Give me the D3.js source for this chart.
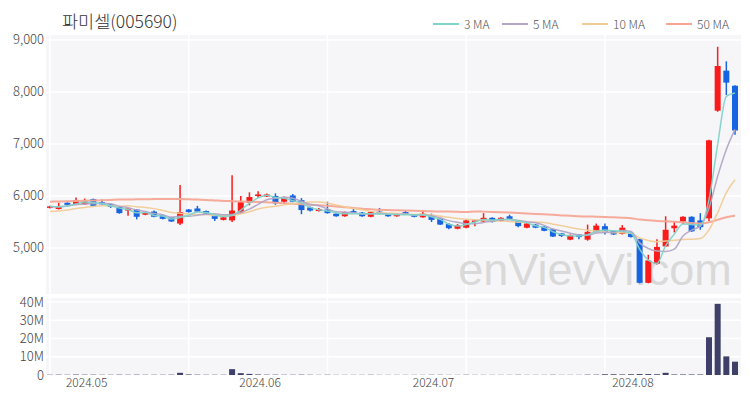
<!DOCTYPE html>
<html>
<head>
<meta charset="utf-8">
<script src="https://cdn.jsdelivr.net/npm/d3@7"></script>
<style>
body { margin: 0; background: #fff; }
svg text { font-family: "Noto Sans CJK KR", "Noto Sans", sans-serif; }
</style>
</head>
<body>
<div id="chart"></div>
<script>
"use strict";

// trading days shown
var dates = [
    "2024-04-25", "2024-04-26", "2024-04-29", "2024-04-30",
    "2024-05-02", "2024-05-03", "2024-05-07", "2024-05-08", "2024-05-09", "2024-05-10",
    "2024-05-13", "2024-05-14", "2024-05-16", "2024-05-17", "2024-05-20", "2024-05-21",
    "2024-05-22", "2024-05-23", "2024-05-24", "2024-05-27", "2024-05-28", "2024-05-29",
    "2024-05-30", "2024-05-31",
    "2024-06-03", "2024-06-04", "2024-06-05", "2024-06-06", "2024-06-07", "2024-06-10",
    "2024-06-11", "2024-06-12", "2024-06-13", "2024-06-14", "2024-06-17", "2024-06-18",
    "2024-06-19", "2024-06-20", "2024-06-21", "2024-06-24", "2024-06-25", "2024-06-26",
    "2024-06-27", "2024-06-28",
    "2024-07-01", "2024-07-02", "2024-07-03", "2024-07-04", "2024-07-05", "2024-07-08",
    "2024-07-09", "2024-07-10", "2024-07-11", "2024-07-12", "2024-07-15", "2024-07-16",
    "2024-07-17", "2024-07-18", "2024-07-19", "2024-07-22", "2024-07-23", "2024-07-24",
    "2024-07-25", "2024-07-26", "2024-07-29", "2024-07-30", "2024-07-31",
    "2024-08-01", "2024-08-02", "2024-08-05", "2024-08-06", "2024-08-07", "2024-08-08",
    "2024-08-09", "2024-08-12", "2024-08-13", "2024-08-14", "2024-08-16", "2024-08-19",
    "2024-08-20"
];

var open = [5780, 5750, 5870, 5830, 5840, 5940, 5880, 5840, 5790, 5720,
    5740, 5640, 5700, 5630, 5590, 5470, 5740, 5760, 5710, 5630,
    5540, 5530, 5680, 5870, 6000, 5990, 6000, 5890, 6010, 5920,
    5780, 5710, 5740, 5660, 5610, 5710, 5680, 5600, 5700, 5660,
    5610, 5690, 5640, 5590, 5620, 5560, 5460, 5370, 5390, 5510,
    5510, 5580, 5520, 5610, 5530, 5390, 5450, 5410, 5360, 5280,
    5160, 5260, 5160, 5310, 5420, 5330, 5270, 5290, 5170, 4330,
    4700, 5030, 5380, 5510, 5600, 5530, 5570, 7640, 8410, 8120];
var high = [5810, 5870, 5880, 5970, 5950, 5950, 5930, 5850, 5800, 5770,
    5750, 5690, 5720, 5640, 5600, 6210, 5750, 5810, 5720, 5640,
    5600, 6400, 6000, 6070, 6090, 6050, 6050, 5990, 6040, 5960,
    5800, 5770, 5890, 5670, 5700, 5760, 5690, 5700, 5770, 5670,
    5670, 5730, 5650, 5710, 5660, 5570, 5480, 5460, 5540, 5540,
    5670, 5590, 5590, 5640, 5540, 5480, 5460, 5420, 5370, 5290,
    5260, 5270, 5450, 5470, 5470, 5340, 5440, 5300, 5180, 4870,
    5170, 5610, 5500, 5610, 5610, 5670, 7080, 8870, 8590, 8130];
var low = [5760, 5740, 5820, 5820, 5830, 5800, 5830, 5770, 5660, 5620,
    5550, 5630, 5590, 5550, 5500, 5440, 5680, 5690, 5650, 5520,
    5530, 5500, 5660, 5820, 5960, 5980, 5830, 5850, 5880, 5650,
    5700, 5700, 5660, 5600, 5600, 5670, 5600, 5590, 5650, 5600,
    5600, 5640, 5590, 5580, 5500, 5440, 5360, 5360, 5380, 5420,
    5500, 5490, 5510, 5550, 5400, 5380, 5380, 5320, 5210, 5210,
    5150, 5170, 5140, 5300, 5260, 5250, 5260, 5200, 4320, 4320,
    4680, 5020, 5300, 5460, 5310, 5350, 5520, 7620, 7940, 7180];
var close = [5800, 5790, 5830, 5920, 5900, 5810, 5840, 5790, 5670, 5760,
    5600, 5680, 5600, 5560, 5510, 5690, 5690, 5700, 5660, 5560,
    5590, 5720, 5880, 5980, 6030, 6030, 5860, 5980, 5890, 5730,
    5720, 5750, 5670, 5610, 5690, 5680, 5610, 5690, 5660, 5610,
    5660, 5650, 5600, 5660, 5540, 5450, 5380, 5440, 5530, 5530,
    5580, 5500, 5580, 5560, 5420, 5470, 5390, 5330, 5220, 5230,
    5250, 5210, 5310, 5430, 5300, 5260, 5390, 5210, 4330, 4760,
    5020, 5350, 5430, 5600, 5320, 5400, 7070, 8500, 8180, 7260];
// volume in millions of shares
var volume = [0.15, 0.2, 0.15, 0.25, 0.2, 0.2, 0.15, 0.15, 0.2, 0.15,
    0.2, 0.15, 0.15, 0.15, 0.2, 1.2, 0.3, 0.2, 0.15, 0.15,
    0.15, 3.2, 1.0, 0.6, 0.3, 0.2, 0.2, 0.15, 0.15, 0.2,
    0.15, 0.1, 0.15, 0.1, 0.1, 0.1, 0.1, 0.15, 0.1, 0.1,
    0.1, 0.1, 0.1, 0.1, 0.15, 0.15, 0.1, 0.1, 0.15, 0.1,
    0.1, 0.1, 0.1, 0.1, 0.15, 0.1, 0.1, 0.1, 0.15, 0.1,
    0.1, 0.1, 0.2, 0.2, 0.4, 0.4, 0.3, 0.4, 0.5, 0.5,
    0.4, 1.2, 0.3, 0.3, 0.3, 0.3, 20.7, 39.0, 10.2, 7.3];

// moving average values before a full window exists
var ma10Head = [5700, 5710, 5730, 5760, 5780, 5800, 5810, 5810, 5800];
var ma50Head = [5890, 5895, 5900, 5905, 5910, 5915, 5920, 5925, 5930, 5930,
    5935, 5935, 5940, 5940, 5940, 5940, 5935, 5930, 5925, 5915,
    5905, 5900, 5895, 5890, 5885, 5880, 5870, 5860, 5850, 5840,
    5830, 5820, 5810, 5800, 5785, 5770, 5755, 5745, 5735, 5730,
    5725, 5720, 5715, 5710, 5705, 5700, 5700, 5695, 5690];

var monthLabels = ["2024.05", "2024.06", "2024.07", "2024.08"];
var priceTicks = [5000, 6000, 7000, 8000, 9000];
var volumeTicks = [0, 10, 20, 30, 40];

var maSeries = [
    { name: "3 MA", n: 3, head: null, color: "#82d3c9", width: 1.5 },
    { name: "5 MA", n: 5, head: null, color: "#b2a5c6", width: 1.5 },
    { name: "10 MA", n: 10, head: ma10Head, color: "#f1cb96", width: 1.5 },
    { name: "50 MA", n: 50, head: ma50Head, color: "#f6a594", width: 2 }
];

var UP = "#fb1b1b", DOWN = "#1764e3";

function movingAvg(n, head) {
    return close.map((c, i) => {
        if (i < n - 1) return head ? head[i] : d3.mean(close.slice(0, i + 1));
        return d3.mean(close.slice(i - n + 1, i + 1));
    });
}

var W = 750, H = 400;
var plotLeft = 46, plotRight = 741;

var svg = d3.select("#chart")
    .append("svg")
    .attr("width", W)
    .attr("height", H);

// scales
var x = d3.scalePoint()
    .domain(dates)
    .range([50, 735]);

var y = d3.scaleLinear()
    .domain([4115, 9096])
    .range([294, 35]);

var yv = d3.scaleLinear()
    .domain([0, 42.2])
    .range([375, 298]);

// panel backgrounds
svg.append("rect")
    .attr("x", plotLeft).attr("y", 35)
    .attr("width", plotRight - plotLeft).attr("height", 259)
    .attr("fill", "#f6f6f8");
svg.append("rect")
    .attr("x", plotLeft).attr("y", 298)
    .attr("width", plotRight - plotLeft).attr("height", 78)
    .attr("fill", "#f6f6f8");

// grid
var gridX = dates.filter((d, i) => i % 16 === 0);
svg.append("g")
    .selectAll("line")
    .data(gridX)
    .join("line")
    .attr("x1", d => x(d)).attr("x2", d => x(d))
    .attr("y1", 35).attr("y2", 376)
    .attr("stroke", "#fff").attr("stroke-width", 1.5);
svg.append("g")
    .selectAll("line")
    .data(priceTicks)
    .join("line")
    .attr("x1", plotLeft).attr("x2", plotRight)
    .attr("y1", d => y(d)).attr("y2", d => y(d))
    .attr("stroke", "#fff").attr("stroke-width", 1.5);
svg.append("g")
    .selectAll("line")
    .data(volumeTicks)
    .join("line")
    .attr("x1", plotLeft).attr("x2", plotRight)
    .attr("y1", d => yv(d)).attr("y2", d => yv(d))
    .attr("stroke", "#fff").attr("stroke-width", 1.5);

// watermark
svg.append("text")
    .attr("x", 595).attr("y", 285)
    .attr("text-anchor", "middle")
    .attr("font-size", 45)
    .attr("fill", "#d9d9d9")
    .style("font-family", "'Liberation Sans', Arial, sans-serif")
    .text("enVievVi.com");

// candles
var idx = d3.range(dates.length);
var candles = svg.append("g");
candles.selectAll("line")
    .data(idx)
    .join("line")
    .attr("x1", i => x(dates[i])).attr("x2", i => x(dates[i]))
    .attr("y1", i => y(high[i])).attr("y2", i => y(low[i]))
    .attr("stroke", i => close[i] >= open[i] ? UP : DOWN)
    .attr("stroke-width", 1.5);
candles.selectAll("rect")
    .data(idx)
    .join("rect")
    .attr("x", i => x(dates[i]) - 3)
    .attr("width", 6)
    .attr("y", i => y(Math.max(open[i], close[i])))
    .attr("height", i => Math.max(1.5, Math.abs(y(open[i]) - y(close[i]))))
    .attr("fill", i => close[i] >= open[i] ? UP : DOWN);

// moving averages
var line = d3.line()
    .x((d, i) => x(dates[i]))
    .y(d => y(d))
    .curve(d3.curveMonotoneX);

svg.append("g")
    .selectAll("path")
    .data(maSeries.slice().reverse())
    .join("path")
    .attr("d", s => line(movingAvg(s.n, s.head)))
    .attr("fill", "none")
    .attr("stroke", s => s.color)
    .attr("stroke-width", s => s.width)
    .attr("opacity", 0.95);

// volume bars
svg.append("g")
    .selectAll("rect")
    .data(idx)
    .join("rect")
    .attr("x", i => x(dates[i]) - 3)
    .attr("width", 6)
    .attr("y", i => yv(volume[i]))
    .attr("height", i => yv(0) - yv(volume[i]))
    .attr("fill", "#3e4069");

// axes labels
svg.append("g")
    .selectAll("text")
    .data(priceTicks)
    .join("text")
    .attr("x", 44).attr("y", d => y(d) + 4.5)
    .attr("text-anchor", "end")
    .attr("font-size", 13)
    .attr("font-weight", 300)
    .attr("fill", "#444")
    .text(d => d3.format(",")(d));

svg.append("g")
    .selectAll("text")
    .data(volumeTicks)
    .join("text")
    .attr("x", 44).attr("y", d => yv(d) + 4.5)
    .attr("text-anchor", "end")
    .attr("font-size", 13)
    .attr("font-weight", 300)
    .attr("fill", "#444")
    .text(d => d === 0 ? "0" : d + "M");

var monthStarts = monthLabels.map(m => dates.find(d => d.slice(0, 7) === m.replace(".", "-")));
svg.append("g")
    .selectAll("text")
    .data(monthLabels)
    .join("text")
    .attr("x", (m, i) => x(monthStarts[i]) + 2)
    .attr("y", 387)
    .attr("text-anchor", "middle")
    .attr("font-size", 12)
    .attr("font-weight", 300)
    .attr("fill", "#444")
    .text(m => m);

// title
svg.append("text")
    .attr("x", 62).attr("y", 28)
    .attr("font-size", 17.5)
    .attr("font-weight", 300)
    .attr("fill", "#333")
    .text("파미셀(005690)");

// legend
var legendX = [433, 502, 582, 666];
var legend = svg.append("g")
    .selectAll("g")
    .data(maSeries)
    .join("g")
    .attr("transform", (s, i) => `translate(${legendX[i]},24)`);
legend.append("line")
    .attr("x1", 0).attr("x2", 26)
    .attr("stroke", s => s.color)
    .attr("stroke-width", 2);
legend.append("text")
    .attr("x", 31).attr("y", 4.5)
    .attr("font-size", 12)
    .attr("font-weight", 300)
    .attr("fill", "#555")
    .text(s => s.name);
</script>
</body>
</html>
